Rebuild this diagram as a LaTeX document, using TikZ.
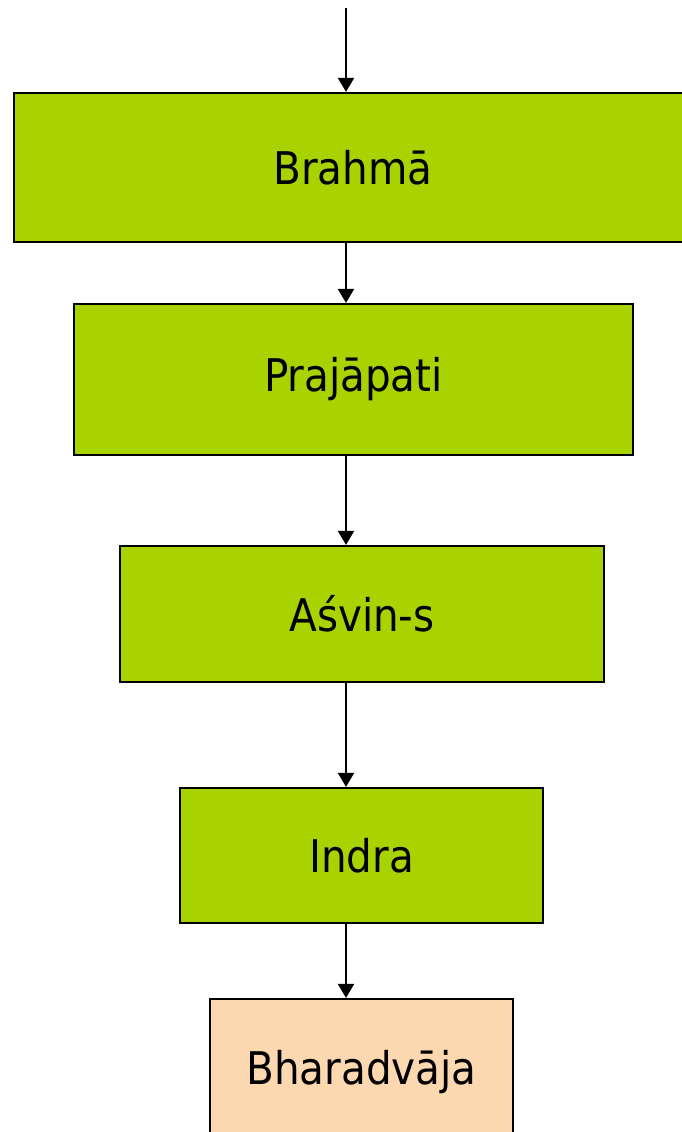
\documentclass[tikz,border=0pt]{standalone}
\usepackage{fontspec}
\setmainfont{DejaVu Sans Condensed}
\usepackage{xcolor}
\usepackage{tikz}
\usetikzlibrary{arrows.meta}
\usetikzlibrary{calc}

\definecolor{boxgreen}{RGB}{169,211,0}
\definecolor{boxpeach}{RGB}{252,216,176}

\begin{document}
\begin{tikzpicture}[x=1pt,y=-1pt,
        lineage/.style={draw=black,line width=2.2pt,inner sep=0pt,font=\fontsize{45}{50}\selectfont},
        descent/.style={line width=2pt,-{Triangle[length=14pt,width=16pt]}}]
        \useasboundingbox (0,0) rectangle (681,1132);
        \draw (346,8) coordinate (top) node[above]{};

        \node[lineage,fill=boxgreen,minimum width=678pt,minimum height=149pt] (brahma) at (353,167.5) {Brahmā};
        \node[lineage,fill=boxgreen,minimum width=559pt,minimum height=151pt] (praja) at (353.5,379.5) {Prajāpati};
        \node[lineage,fill=boxgreen,minimum width=484pt,minimum height=136pt] (asvin) at (362,614) {Aśvin-s};
        \node[lineage,fill=boxgreen,minimum width=363pt,minimum height=135pt] (indra) at (361.5,855.5) {Indra};
        \node[lineage,fill=boxpeach,minimum width=303pt,minimum height=146pt] (bhara) at (361.5,1072) {Bharadvāja};

        \draw[descent] (top)--(brahma.north -| top);
        \draw[descent] (brahma.south -| top)--(praja.north -| top);
        \draw[descent] (praja.south -| top)--(asvin.north -| top);
        \draw[descent] (asvin.south -| top)--(indra.north -| top);
        \draw[descent] (indra.south -| top)--(bhara.north -| top);
    \end{tikzpicture}
\end{document}
